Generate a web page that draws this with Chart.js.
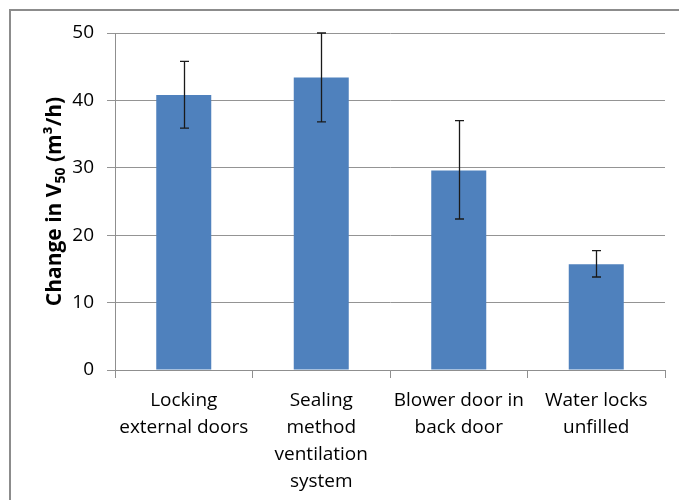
<!DOCTYPE html>
<html>
<head>
<meta charset="utf-8">
<style>
  html, body { margin: 0; padding: 0; background: #fff; }
  #wrap { width: 679px; height: 500px; position: relative; }
</style>
<script src="https://cdn.jsdelivr.net/npm/chart.js@4.4.1/dist/chart.umd.min.js"></script>
</head>
<body>
<div id="wrap"><canvas id="chart" width="679" height="500"></canvas></div>
<script>
// values
const categories = [
  ['Locking', 'external doors'],
  ['Sealing', 'method', 'ventilation', 'system'],
  ['Blower door in', 'back door'],
  ['Water locks', 'unfilled']
];
const changeV50 = [40.8, 43.4, 29.6, 15.7];
const errLow = [35.9, 36.8, 22.4, 13.8];
const errHigh = [45.8, 50.0, 37.0, 17.7];
const yTicks = [0, 10, 20, 30, 40, 50];

const FONT = '"Open Sans", "Liberation Sans", sans-serif';

// frame of the chart box (only top and left visible in the picture)
const framePlugin = {
  id: 'frame',
  beforeDraw(chart) {
    const ctx = chart.ctx;
    ctx.save();
    ctx.strokeStyle = '#8c8c8c';
    ctx.lineWidth = 2;
    ctx.beginPath();
    ctx.moveTo(10, 500);
    ctx.lineTo(10, 10);
    ctx.lineTo(679, 10);
    ctx.stroke();
    ctx.restore();
  }
};

// error bars drawn through the y scale
const errorBarPlugin = {
  id: 'errorBars',
  afterDatasetsDraw(chart) {
    const ctx = chart.ctx;
    const y = chart.scales.y;
    const meta = chart.getDatasetMeta(0);
    ctx.save();
    ctx.strokeStyle = '#1a1a1a';
    ctx.lineWidth = 1.3;
    meta.data.forEach((bar, i) => {
      const x = Math.round(bar.x) + 0.5;
      const top = y.getPixelForValue(errHigh[i]);
      const bot = y.getPixelForValue(errLow[i]);
      ctx.beginPath();
      ctx.moveTo(x, top); ctx.lineTo(x, bot);
      ctx.moveTo(x - 4.5, top); ctx.lineTo(x + 4.5, top);
      ctx.moveTo(x - 4.5, bot); ctx.lineTo(x + 4.5, bot);
      ctx.stroke();
    });
    ctx.restore();
  }
};

// y axis title with a real subscript and superscript
const yTitlePlugin = {
  id: 'yTitle',
  afterDraw(chart) {
    const ctx = chart.ctx;
    const area = chart.chartArea;
    const big = 'bold 21px ' + FONT;
    const small = 'bold 14px ' + FONT;
    const parts = [
      { t: 'Change in V', f: big, dy: 0 },
      { t: '50', f: small, dy: 4 },
      { t: ' (m\u00B3/h)', f: big, dy: 0 }
    ];
    ctx.save();
    let total = 0;
    parts.forEach(p => { ctx.font = p.f; p.w = ctx.measureText(p.t).width; total += p.w; });
    ctx.translate(61, (area.top + area.bottom) / 2);
    ctx.rotate(-Math.PI / 2);
    ctx.fillStyle = '#000';
    ctx.textBaseline = 'alphabetic';
    let x = -total / 2;
    parts.forEach(p => {
      ctx.font = p.f;
      ctx.fillText(p.t, x, p.dy);
      x += p.w;
    });
    ctx.restore();
  }
};

new Chart(document.getElementById('chart'), {
  type: 'bar',
  data: {
    labels: categories,
    datasets: [{
      data: changeV50,
      backgroundColor: '#4f81bd',
      borderWidth: 0,
      barPercentage: 0.4,
      categoryPercentage: 1.0
    }]
  },
  options: {
    responsive: false,
    animation: false,
    layout: { padding: { left: 0, right: 14, top: 33, bottom: 0 } },
    plugins: { legend: { display: false }, tooltip: { enabled: false } },
    scales: {
      x: {
        grid: { drawOnChartArea: false, color: '#8f8f8f', tickLength: 8, offset: true },
        border: { color: '#8f8f8f' },
        ticks: {
          color: '#000',
          font: { family: FONT, size: 19, lineHeight: 1.42 },
          padding: 9,
          maxRotation: 0,
          autoSkip: false
        },
        afterFit(scale) { scale.height = 130; }
      },
      y: {
        min: 0,
        max: 50,
        afterBuildTicks(scale) { scale.ticks = yTicks.map(v => ({ value: v })); },
        grid: { color: '#949494', tickLength: 8 },
        border: { color: '#8f8f8f' },
        ticks: {
          color: '#000',
          font: { family: FONT, size: 19 },
          padding: 13
        },
        afterFit(scale) { scale.width = 115; }
      }
    }
  },
  plugins: [framePlugin, errorBarPlugin, yTitlePlugin]
});
</script>
</body>
</html>
